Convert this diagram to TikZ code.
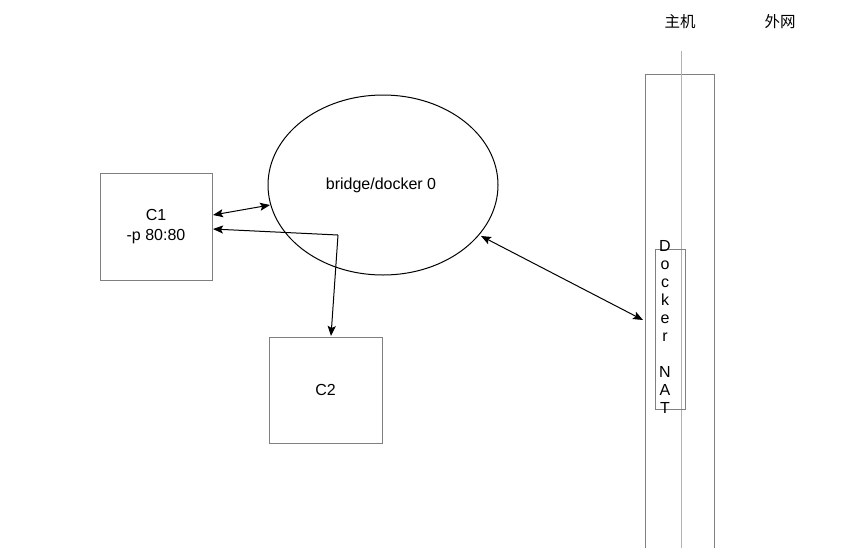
\documentclass[tikz,border=0pt]{standalone}
\usepackage{fontspec}
\setmainfont{Liberation Sans}
\newfontfamily\cjkfont{Noto Sans CJK SC}
\usetikzlibrary{shapes.geometric,arrows.meta}
\begin{document}
\begin{tikzpicture}[x=1pt,y=-1pt,
		box/.style={draw=black!50,line width=1pt,inner sep=0pt},
		link/.style={line width=1pt,>={Stealth[length=10pt,width=8pt,inset=2pt]}},
		every node/.style={font=\fontsize{16}{20}\selectfont}]
	\useasboundingbox (0,0) rectangle (853,547);
	% host column
	\draw[box] (645,74) rectangle (714,548);
	\draw[black!30,line width=1pt] (681,51) -- (681,548);
	\node[font=\cjkfont\fontsize{15.5}{18}\selectfont] (host) at (680,22) {主机};
	\node[font=\cjkfont\fontsize{15.5}{18}\selectfont] (wan) at (780,22) {外网};
	\node[box,minimum width=30,minimum height=160] (nat) at (670,329) {};
	\node[align=center,inner sep=0pt,font=\fontsize{16}{18}\selectfont] (natlabel) at (665,327) {D\\o\\c\\k\\e\\r\\[18pt]N\\A\\T};
	% bridge and containers
	\node[ellipse,draw,line width=1pt,minimum width=230,minimum height=180] (bridge) at (383,185) {};
	\node (bridgelabel) at (381,185) {bridge/docker 0};
	\node[box,minimum width=112,minimum height=107,align=center] (c1) at (156,226.5) {C1\\-p 80:80};
	\node[box,minimum width=113,minimum height=106] (c2) at (325.5,390) {C2};
	\coordinate (c1a) at (213,215);
	\coordinate (c1b) at (213,229);
	\coordinate (bra) at (270,205);
	\coordinate (brb) at (481,236);
	\coordinate (bend) at (338,235);
	\coordinate (c2top) at (331,336);
	\coordinate (natin) at (643,320);
	\draw[link,<->] (c1a) -- (bra);
	\draw[link,->] (bend) -- (c1b);
	\draw[link,->] (bend) -- (c2top);
	\draw[link,<->] (brb) -- (natin);
\end{tikzpicture}
\end{document}
